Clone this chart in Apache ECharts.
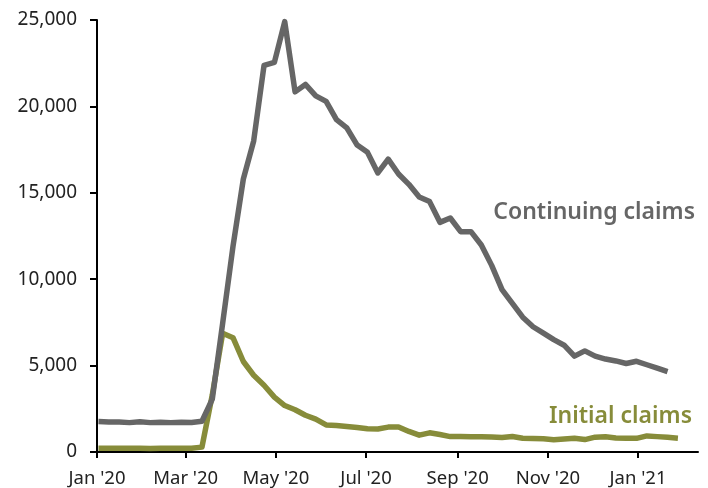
<!DOCTYPE html>
<html>
<head>
<meta charset="utf-8">
<script src="https://cdn.jsdelivr.net/npm/echarts@6/dist/echarts.min.js"></script>
<style>
html,body{margin:0;padding:0;background:#fff;}
#chart{width:708px;height:488px;}
</style>
</head>
<body>
<div id="chart"></div>
<script>
// Weekly observation dates (plotted positions)
const weeks = [
 '2020-01-02','2020-01-09','2020-01-16','2020-01-23','2020-01-30',
 '2020-02-06','2020-02-13','2020-02-20','2020-02-27',
 '2020-03-05','2020-03-12','2020-03-19','2020-03-26',
 '2020-04-02','2020-04-09','2020-04-16','2020-04-23','2020-04-30',
 '2020-05-07','2020-05-14','2020-05-21','2020-05-28',
 '2020-06-04','2020-06-11','2020-06-18','2020-06-25',
 '2020-07-02','2020-07-09','2020-07-16','2020-07-23','2020-07-30',
 '2020-08-06','2020-08-13','2020-08-20','2020-08-27',
 '2020-09-03','2020-09-10','2020-09-17','2020-09-24',
 '2020-10-01','2020-10-08','2020-10-15','2020-10-22','2020-10-29',
 '2020-11-05','2020-11-12','2020-11-19','2020-11-26',
 '2020-12-03','2020-12-10','2020-12-17','2020-12-24','2020-12-31',
 '2021-01-07','2021-01-14','2021-01-21','2021-01-28'
];
// Initial claims (thousands)
const initialClaims = [
 215,212,220,218,210,
 208,212,216,219,
 217,282,3307,6867,
 6615,5237,4442,3867,3176,
 2687,2446,2126,1900,
 1566,1540,1482,1413,
 1340,1330,1440,1450,1190,
 975,1110,1010,890,
 890,880,880,870,
 840,900,800,775,760,
 715,750,790,720,
 860,885,810,790,790,
 930,890,850,800
];
// Continuing claims (thousands) - one week fewer
const continuingClaims = [
 1760,1740,1730,1700,1750,
 1700,1720,1700,1720,
 1710,1780,3060,7450,
 11900,15800,18000,22380,22550,
 24910,20840,21270,20610,
 20290,19230,18760,17760,
 17340,16150,16950,16090,15490,
 14760,14490,13290,13540,
 12750,12750,11980,10800,
 9400,8600,7800,7250,6880,
 6500,6180,5550,5850,
 5550,5380,5270,5120,5250,
 5050,4850,4650
];
const yTicks = [0,5000,10000,15000,20000,25000];
const xTickDates = ['2020-01-01','2020-03-01','2020-05-01','2020-07-01','2020-09-01','2020-11-01','2021-01-01'];
const xTickLabels = ["Jan '20","Mar '20","May '20","Jul '20","Sep '20","Nov '20","Jan '21"];

const FONT = 'Noto Sans';
const GREY = '#666666';
const OLIVE = '#878c3a';

const ts = d => new Date(d + 'T00:00:00Z').getTime();
const tickTs = xTickDates.map(ts);
const initData = weeks.map((d,i) => [ts(d), initialClaims[i]]);
const contData = continuingClaims.map((v,i) => [ts(weeks[i]), v]);

const chart = echarts.init(document.getElementById('chart'), null, {renderer:'canvas'});
chart.setOption({
  animation: false,
  backgroundColor: '#ffffff',
  grid: {left: 97, right: 10, top: 20, bottom: 36, containLabel: false},
  xAxis: {
    type: 'value',
    min: ts('2020-01-01'),
    max: ts('2021-02-10') + 14 * 3600 * 1000,
    axisLine: {show: true, onZero: false, lineStyle: {color: '#000', width: 2}},
    axisTick: {show: true, customValues: tickTs, length: 6, lineStyle: {color: '#000', width: 2}},
    axisLabel: {
      customValues: tickTs,
      margin: 17,
      color: '#222',
      fontFamily: FONT,
      fontSize: 18.5,
      formatter: function (v) {
        const idx = tickTs.indexOf(v);
        return idx >= 0 ? xTickLabels[idx] : '';
      }
    },
    splitLine: {show: false}
  },
  yAxis: {
    type: 'value',
    min: 0, max: 25000, interval: 5000,
    axisLine: {show: true, lineStyle: {color: '#000', width: 2}},
    axisTick: {show: true, length: 7, lineStyle: {color: '#000', width: 2}},
    axisLabel: {
      margin: 20,
      color: '#222',
      fontFamily: FONT,
      fontSize: 19,
      formatter: v => v.toLocaleString('en-US')
    },
    splitLine: {show: false}
  },
  series: [
    {
      name: 'Initial claims', type: 'line', data: initData,
      showSymbol: false, symbol: 'none',
      lineStyle: {color: OLIVE, width: 5.5, join: 'round', cap: 'butt'},
      z: 2
    },
    {
      name: 'Continuing claims', type: 'line', data: contData,
      showSymbol: false, symbol: 'none',
      lineStyle: {color: GREY, width: 5.5, join: 'round', cap: 'butt'},
      z: 3
    }
  ],
  graphic: [
    {type: 'text', right: 13, top: 201, style: {text: 'Continuing claims', fill: GREY, font: '600 23px "Noto Sans"'}},
    {type: 'text', right: 16, top: 405, style: {text: 'Initial claims', fill: OLIVE, font: '600 23px "Noto Sans"'}}
  ]
});
</script>
</body>
</html>
